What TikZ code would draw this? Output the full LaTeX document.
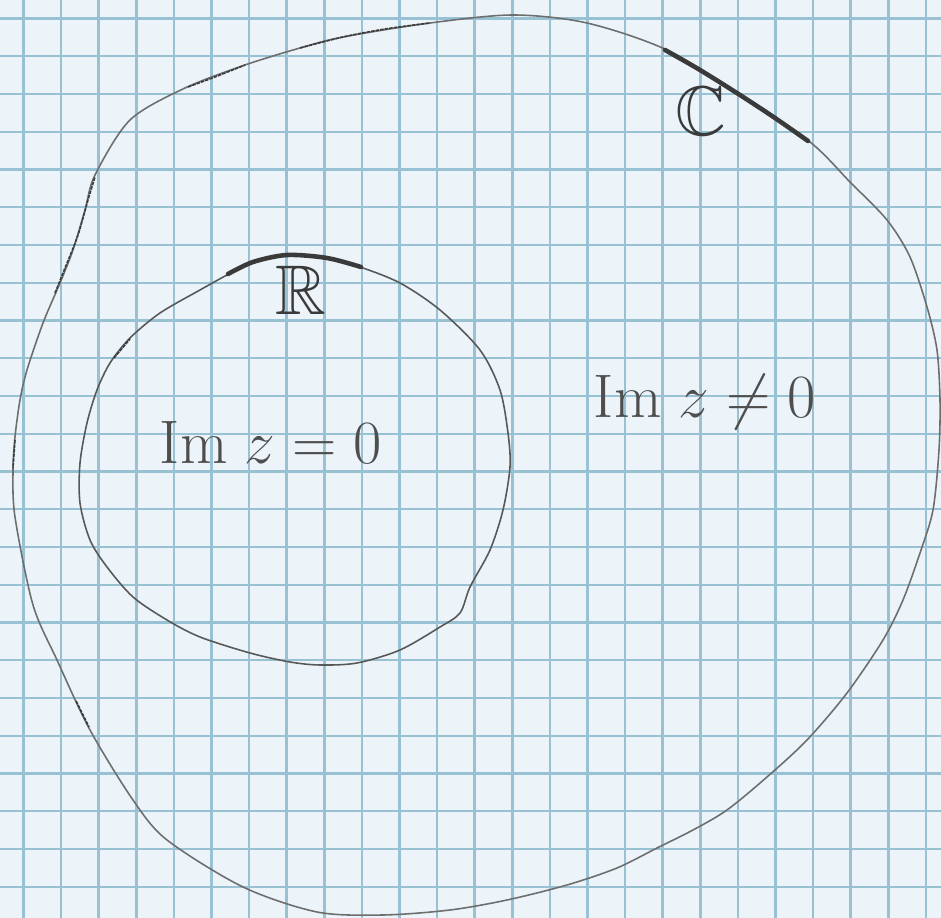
\RequirePackage{fix-cm}
\documentclass[tikz,border=0pt]{standalone}
\usepackage{amsmath,amssymb}
\usepackage{tikz}
\definecolor{sheetbg}{HTML}{ECF4F9}
\definecolor{sheetgrid}{HTML}{98C2D4}
\definecolor{pencil}{HTML}{6E6E6E}
\definecolor{pencildark}{HTML}{3A3A3A}

\begin{document}
\begin{tikzpicture}[
  x=0.02cm, y=-0.02cm,
  gridline/.style={draw=sheetgrid, line width=1.4pt},
  region/.style={draw=pencil, line width=0.9pt},
  shade/.style={draw=pencildark, line width=0.9pt, dash pattern=on 2pt off 0.6pt},
  setmark/.style={draw=pencildark, line width=2.6pt, line cap=round},
  setname/.style={text=pencildark, font=\fontsize{40}{44}\selectfont, inner sep=0pt},
  cond/.style={text=pencildark!90, font=\fontsize{35}{40}\selectfont, inner sep=0pt}
]
  % squared paper
  \fill[sheetbg] (0,0) rectangle (941,918);
  \useasboundingbox (0,0) rectangle (941,918);
  \foreach \i in {0,...,24} \draw[gridline] ({23.5+37.6*\i},0) -- ({23.5+37.6*\i},918);
  \foreach \j in {0,...,24} \draw[gridline] (0,{18.5+37.75*\j}) -- (941,{18.5+37.75*\j});

  % outer curve: the complex plane
  \draw[region] plot[smooth cycle, tension=0.5] coordinates {
    (95,175) (130,120) (185,88) (245,65) (300,48) (343,37) (430,23) (513,15)
    (587,23) (667,50) (740,95) (810,142) (850,182) (887,220) (910,257)
    (927,307) (937,350) (940,400) (939,450) (933,510) (920,553) (903,600)
    (883,640) (847,693) (807,740) (767,777) (727,810) (693,830) (657,848)
    (617,868) (567,885) (507,900) (450,910) (383,915) (317,912) (243,887)
    (167,840) (133,800) (90,730) (57,660) (33,605) (15,517) (13,470)
    (15,437) (20,400) (27,370) (43,323) (60,283) (73,250) (85,210)};

  % inner curve: the real line
  \draw[region, draw=pencil!80!black] plot[smooth cycle, tension=0.5] coordinates {
    (287,255) (327,258) (360,267) (400,283) (440,310) (480,350) (500,390)
    (508,433) (510,467) (503,510) (490,550) (470,587) (460,613) (440,627)
    (400,650) (357,663) (320,665) (290,662) (250,653) (200,637) (167,620)
    (133,597) (107,567) (90,540) (80,503) (80,463) (87,423) (97,390)
    (110,363) (130,338) (160,313) (200,290) (227,275) (253,262)};

  % heavier pencil strokes
  \draw[shade] plot[smooth, tension=0.5] coordinates {(55,293) (65,268) (78,235) (88,200) (95,177)};
  \draw[shade] plot[smooth, tension=0.5] coordinates {(188,87) (215,77) (245,65)};
  \draw[shade] plot[smooth, tension=0.5] coordinates {(300,48) (343,37) (385,29) (430,23)};
  \draw[shade] (15,440) -- (13,468);
  \draw[shade] (114,358) -- (130,339);
  \draw[shade] (76,701) -- (89,727);
  \draw[setmark] plot[smooth, tension=0.5] coordinates {(665,50) (700,70) (740,95) (775,118) (808,141)};
  \draw[setmark] plot[smooth, tension=0.5] coordinates {(228,274) (253,262) (287,255) (327,258) (361,267)};

  % labels
  \node[setname] (cset) at (701,111) {$\mathbb{C}$};
  \node[setname] (rset) at (301,290) {$\mathbb{R}$};
  \node[cond] (real) at (271,442) {$\mathrm{Im}\;z=0$};
  \node[cond] (nonreal) at (705,402) {$\mathrm{Im}\;z\neq0$};
\end{tikzpicture}
\end{document}
